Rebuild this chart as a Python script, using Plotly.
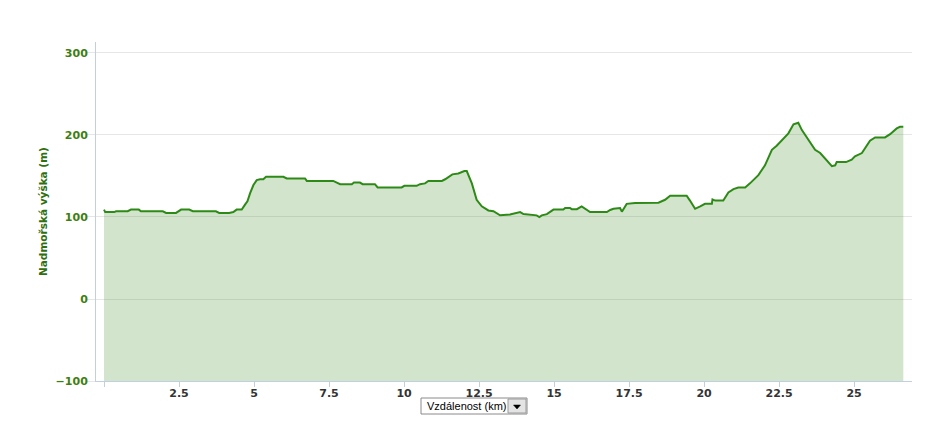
import plotly.graph_objects as go

# ---- data ----
distance_km = [0.0, 0.04, 0.34, 0.40, 0.79, 0.90, 1.16, 1.23, 1.96, 2.07, 2.40, 2.57, 2.84, 2.96,
               3.73, 3.84, 4.17, 4.31, 4.42, 4.59, 4.70, 4.78, 4.87, 4.98, 5.09, 5.20, 5.31, 5.40,
               5.98, 6.09, 6.70, 6.76, 7.64, 7.76, 7.87, 8.26, 8.33, 8.53, 8.62, 9.03, 9.12, 9.92,
               10.01, 10.42, 10.53, 10.70, 10.81, 11.26, 11.37, 11.61, 11.81, 12.01, 12.09, 12.26,
               12.42, 12.59, 12.81, 12.98, 13.20, 13.53, 13.87, 13.98, 14.42, 14.51, 14.59, 14.76,
               14.98, 15.31, 15.37, 15.53, 15.59, 15.76, 15.92, 16.20, 16.76, 16.87, 16.98, 17.20,
               17.26, 17.42, 17.70, 18.48, 18.70, 18.87, 19.42, 19.53, 19.70, 19.87, 20.03, 20.26,
               20.28, 20.37, 20.64, 20.81, 20.98, 21.14, 21.37, 21.53, 21.70, 21.81, 22.03, 22.26,
               22.42, 22.59, 22.81, 22.98, 23.14, 23.26, 23.48, 23.70, 23.87, 24.09, 24.26, 24.37,
               24.42, 24.73, 24.92, 25.03, 25.26, 25.53, 25.70, 26.03, 26.20, 26.42, 26.53, 26.64]
elevation_m = [109, 106, 106, 107, 107, 109, 109, 107, 107, 105, 105, 109, 109, 107,
               107, 105, 105, 106, 109, 109, 115, 119, 129, 139, 145, 146, 146, 149,
               149, 147, 147, 144, 144, 142, 140, 140, 142, 142, 140, 140, 136, 136,
               138, 138, 140, 141, 144, 144, 146, 152, 153, 156, 156, 141,
               121, 113, 108, 107, 102, 103, 106, 103.5, 102, 100, 102, 103.5,
               109, 109, 111, 111, 109.5, 109.5, 113, 106, 106, 108.5, 110, 111,
               106.5, 116, 117, 117.5, 121, 126, 126, 120, 110, 113, 116, 116,
               121.5, 120, 120, 130, 134, 136, 136, 141, 147, 151, 163, 182,
               187, 194, 202, 213, 215, 206, 194, 182, 178, 169, 162, 163,
               167, 167, 170, 174, 178, 193, 197, 197, 201, 208, 210, 210]

x_tick_vals = [0, 2.5, 5, 7.5, 10, 12.5, 15, 17.5, 20, 22.5, 25]
x_tick_text = ["", "2.5", "5", "7.5", "10", "12.5", "15", "17.5", "20", "22.5", "25"]
y_tick_vals = [-100, 0, 100, 200, 300]
y_tick_text = ["\u2212100", "0", "100", "200", "300"]

Y_MIN, Y_MAX = -100, 313.4
X_MIN, X_MAX = -0.267, 26.93

y_title = "Nadmořská výška (m)"
x_selector_text = "Vzdálenost (km)"

# ---- layout geometry (page pixels; page body has an 8px margin) ----
OFF = 8
PAGE_W, PAGE_H = 944, 438
W, H = PAGE_W - 2 * OFF, PAGE_H - 2 * OFF
L, R, T, B = 96, 912, 42, 381  # plot area in page pixels


def px(xp):
    return (xp - L) / (R - L)


def py(yp):
    return (B - yp) / (B - T)


axis_col = "#C0D0E0"
fig = go.Figure()
fig.add_trace(go.Scatter(x=distance_km, y=[Y_MIN] * len(distance_km), mode="lines",
                         line=dict(width=0), hoverinfo="skip", showlegend=False))
fig.add_trace(go.Scatter(x=distance_km, y=elevation_m, mode="lines", fill="tonexty",
                         fillcolor="rgba(76,153,51,0.25)",
                         line=dict(color="#2e8a17", width=2), showlegend=False))

fig.update_layout(
    width=W, height=H,
    margin=dict(l=L - OFF, r=PAGE_W - OFF - R, t=T - OFF, b=PAGE_H - OFF - B, pad=0),
    paper_bgcolor="white", plot_bgcolor="white",
    font=dict(family="DejaVu Sans", size=11),
    xaxis=dict(range=[X_MIN, X_MAX], tickvals=x_tick_vals, ticktext=x_tick_text,
               showgrid=False, zeroline=False, showline=True, linecolor=axis_col, linewidth=1,
               ticks="outside", ticklen=5, tickcolor=axis_col, ticklabelstandoff=-3,
               tickfont=dict(family="DejaVu Sans", size=11, color="#333333", weight="bold")),
    yaxis=dict(range=[Y_MIN, Y_MAX], tickvals=y_tick_vals, ticktext=y_tick_text,
               showgrid=True, gridcolor="#e6e6e6", gridwidth=1, zeroline=False,
               showline=True, linecolor=axis_col, linewidth=1,
               ticks="outside", ticklen=8, tickcolor="#e6e6e6", ticklabelstandoff=-3,
               tickfont=dict(family="DejaVu Sans", size=11, color="#3d7f12", weight="bold")),
)

# y axis title
fig.add_annotation(x=px(43), y=py(211), xref="paper", yref="paper", text=y_title,
                   textangle=-90, showarrow=False, xanchor="center", yanchor="middle",
                   font=dict(family="DejaVu Sans", size=10.5, color="#2f6f0f", weight="bold"))

# distance selector (dropdown look-alike)
fig.add_shape(type="rect", xref="paper", yref="paper", x0=px(421), x1=px(527), y0=py(414), y1=py(398),
              line=dict(color="#8a8a8a", width=1), fillcolor="white")
fig.add_shape(type="rect", xref="paper", yref="paper", x0=px(508), x1=px(526), y0=py(413), y1=py(399),
              line=dict(color="#9a9a9a", width=1), fillcolor="#e4e4e4")
fig.add_shape(type="path", xref="paper", yref="paper",
              path=f"M {px(513.5)} {py(405)} L {px(520.5)} {py(405)} L {px(517)} {py(409)} Z",
              line=dict(color="black", width=0.5), fillcolor="black")
fig.add_annotation(x=px(425), y=py(406), xref="paper", yref="paper", text=x_selector_text,
                   xanchor="left", yanchor="middle", showarrow=False,
                   font=dict(family="Liberation Sans", size=11, color="#000000"))

fig.write_html("out.html")
